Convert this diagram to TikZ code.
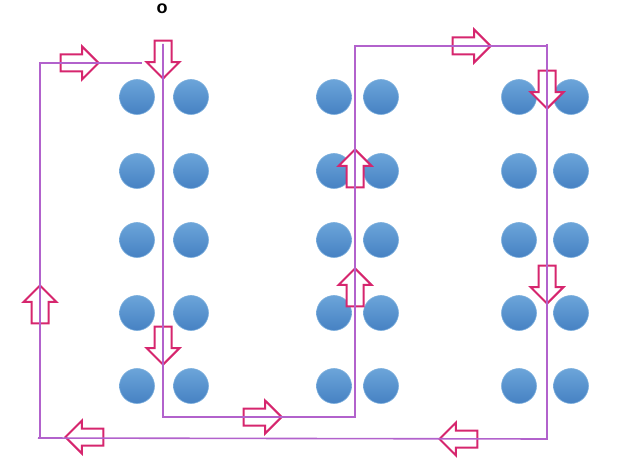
\documentclass[tikz,border=0pt]{standalone}
\usepackage{fontspec}
\setsansfont{Liberation Sans}
\usetikzlibrary{shapes.arrows}
\definecolor{dotblue}{RGB}{91,155,213}
\definecolor{dotdark}{RGB}{70,130,195}
\definecolor{pathviolet}{RGB}{178,98,204}
\definecolor{arrowred}{RGB}{214,38,110}

\begin{document}
\begin{tikzpicture}[x=1pt, y=-1pt,
                    dot/.style = {circle, minimum size=35pt, inner sep=0pt,
                        top color=dotblue!90!white, bottom color=dotdark, draw=dotblue!80!white, line width=0.6pt},
                    flow/.style = {single arrow, draw=arrowred, fill=white, line width=2pt,
                        minimum height=38pt, minimum width=31pt, inner sep=7.5pt,
                        single arrow head extend=8pt, anchor=tip},
                    route/.style = {draw=pathviolet, line width=1.6pt}]
        \useasboundingbox (0,0) rectangle (627,468);

        \node[font=\sffamily\bfseries\fontsize{18}{18}\selectfont, inner sep=1pt] (mark) at (162,9) {o};

        % columns of dots
        \foreach \g/\xl/\xr in {1/137/191, 2/334/381, 3/519/571}
            \foreach \r/\y in {1/97, 2/171, 3/240, 4/313, 5/386} {
                \node[dot] (d\g-\r-l) at (\xl,\y) {};
                \node[dot] (d\g-\r-r) at (\xr,\y) {};
            }

        % arrows along the route
        \node[flow] (a1) at (100,63) {};
        \node[flow, rotate=-90] (a2) at (163,80) {};
        \node[flow] (a3) at (492,46) {};
        \node[flow, rotate=-90] (a4) at (547,110) {};
        \node[flow, rotate=90] (a5) at (355,148) {};
        \node[flow, rotate=90] (a6) at (355,267) {};
        \node[flow, rotate=-90] (a7) at (547,305) {};
        \node[flow, rotate=180] (a8) at (438,439) {};
        \node[flow] (a9) at (283,417) {};
        \node[flow, rotate=180] (a10) at (64,437) {};
        \node[flow, rotate=90] (a11) at (40,284) {};
        \node[flow, rotate=-90] (a12) at (163,366) {};

        % corners of the route
        \coordinate (start) at (163,44);
        \coordinate (low1) at (163,417);
        \coordinate (low2) at (355,417);
        \coordinate (top2) at (355,46);
        \coordinate (top3) at (547,46);
        \coordinate (low3) at (547,439);
        \coordinate (back) at (38,438);
        \coordinate (left) at (40,437);
        \coordinate (corner) at (40,63);
        \coordinate (gap) at (142,63);

        \draw[route] (start) -- (low1) -- (low2) -- (top2) -- (top3) -- (low3) -- (back);
        \draw[route] (left) -- (corner) -- (gap);
        \draw[route] (top3) -- ++(0,-2);
    \end{tikzpicture}
\end{document}
